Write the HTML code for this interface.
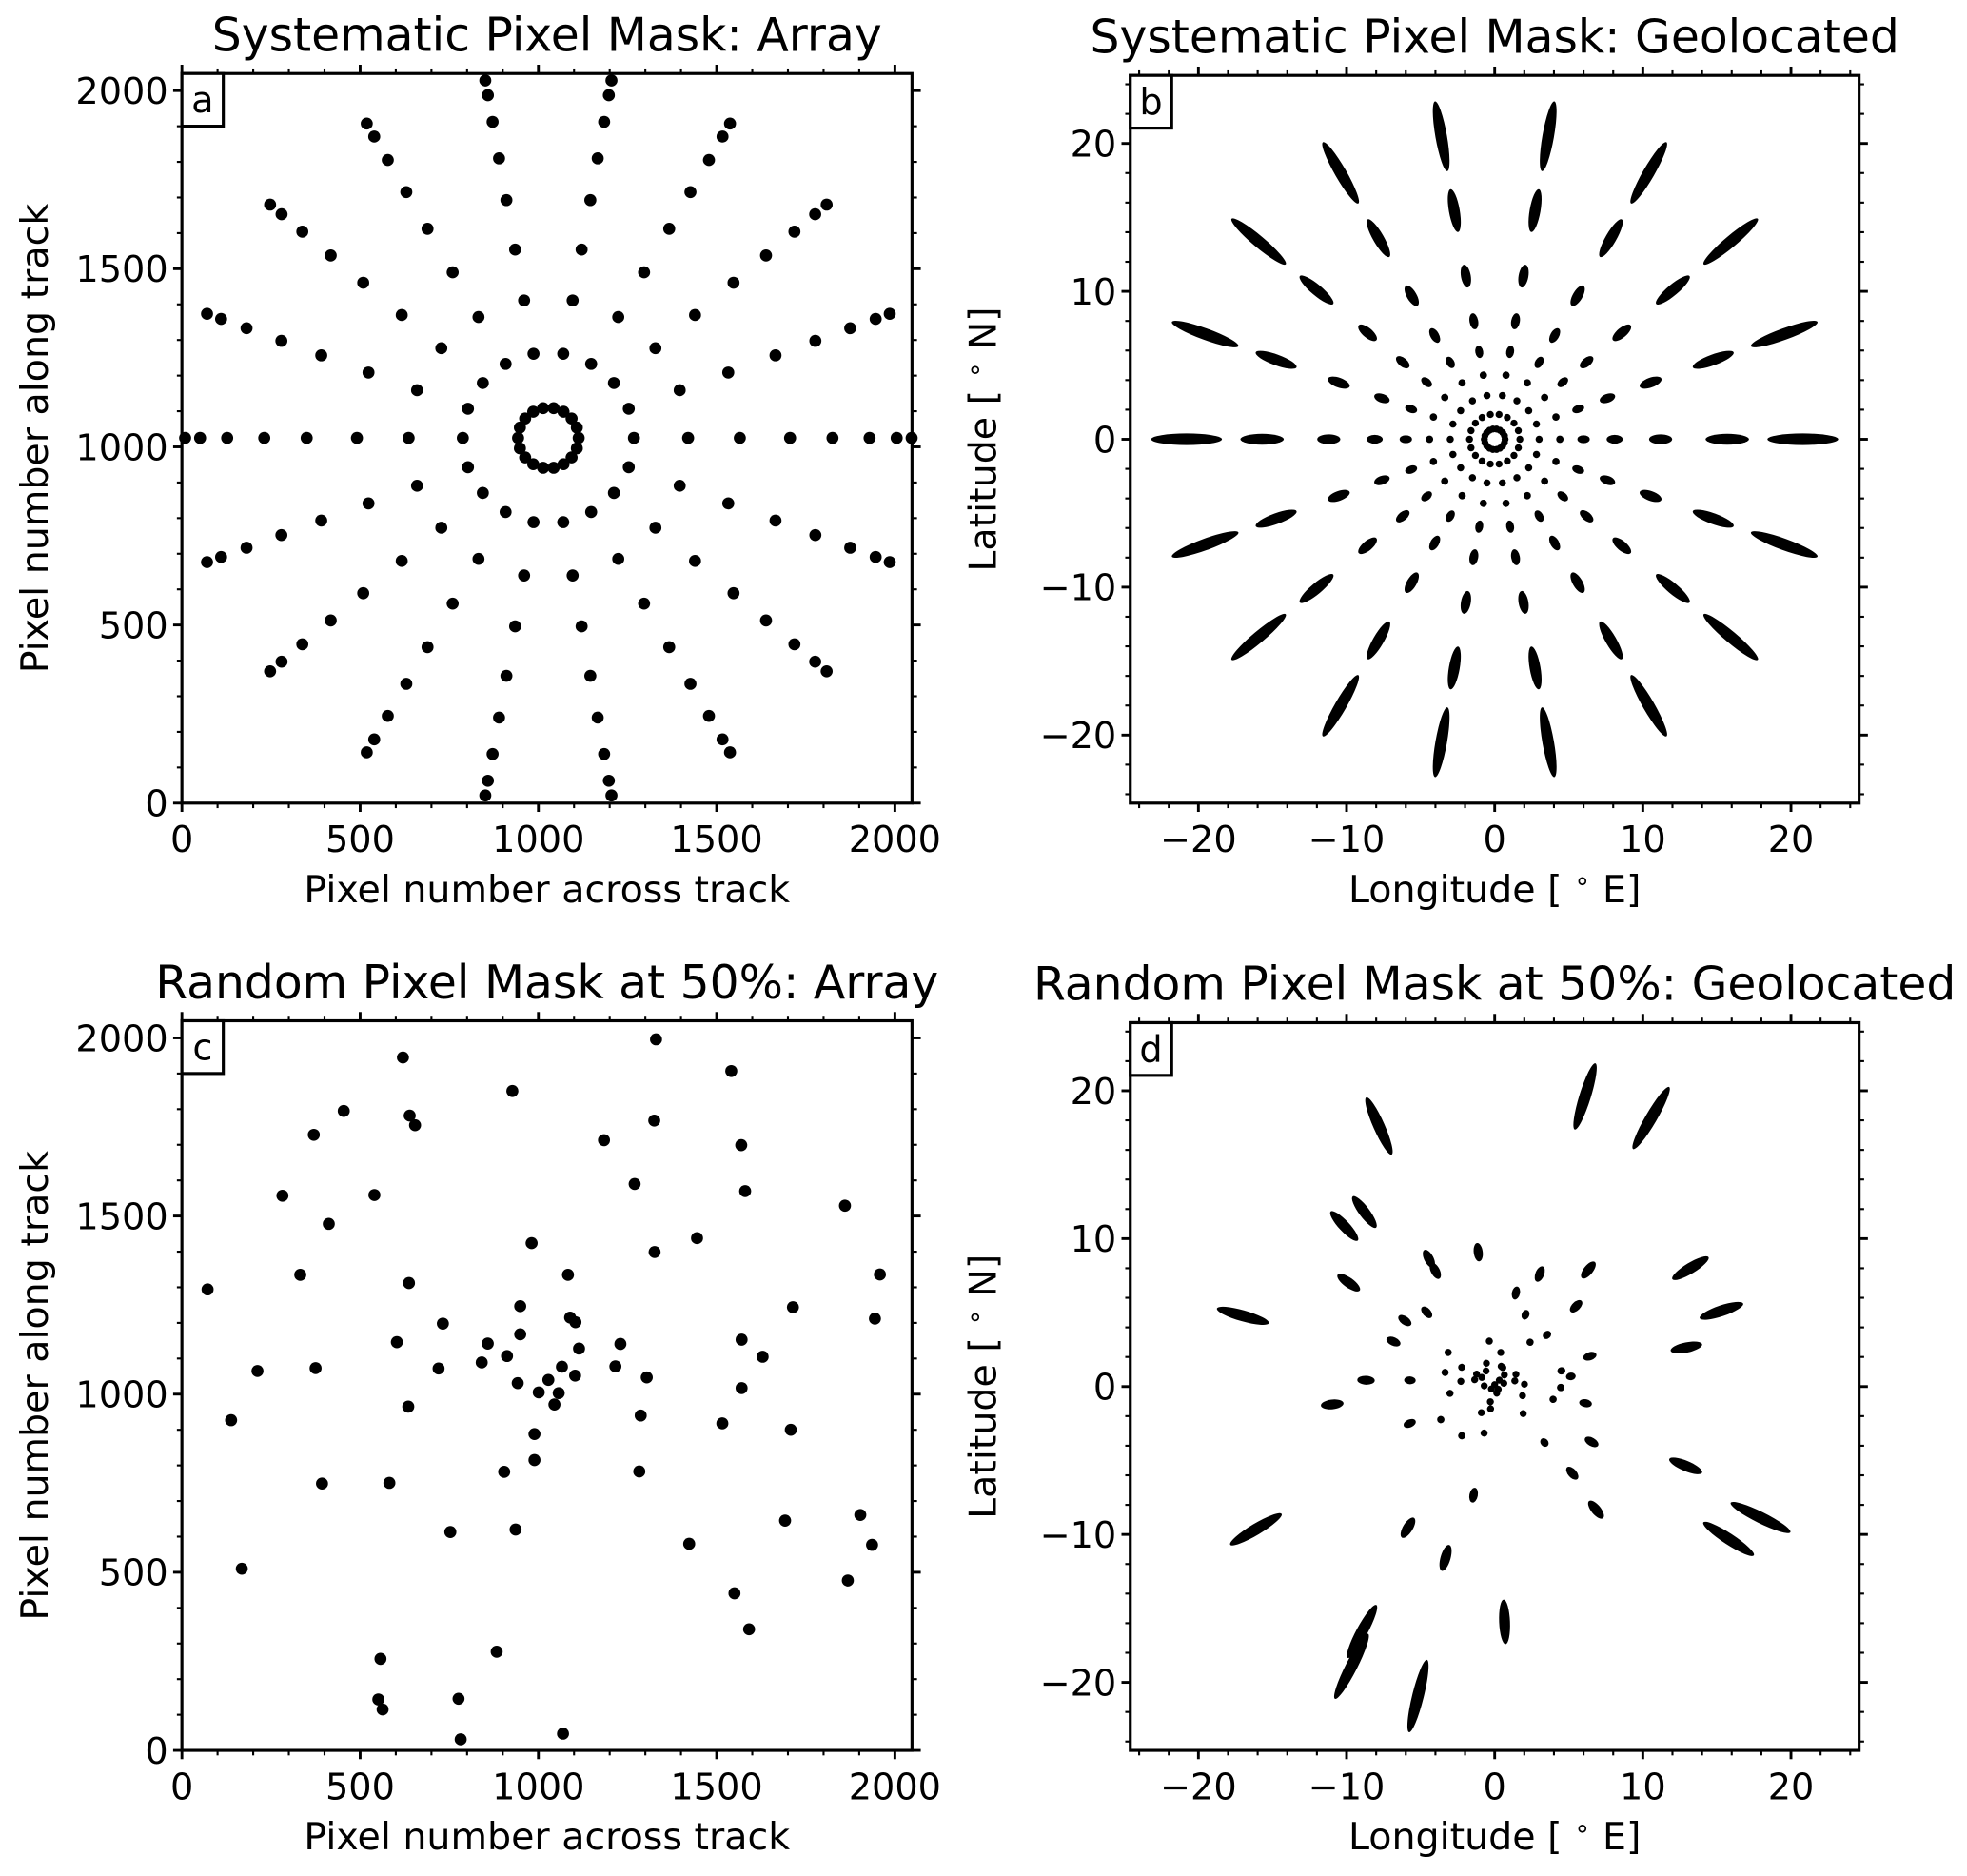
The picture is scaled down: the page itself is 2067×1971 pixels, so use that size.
<!DOCTYPE html>
<html><head><meta charset="utf-8">
<style>
html,body{margin:0;padding:0;background:#fff;}
svg{display:block;}
text{font-family:"DejaVu Sans","Liberation Sans",sans-serif;fill:#000;}
</style></head>
<body>
<svg id="fig" width="2067" height="1971" viewBox="0 0 1568 1495" xmlns="http://www.w3.org/2000/svg">
<rect x="0" y="0" width="1568" height="1495" fill="#fff"/>
</svg>
<script>
// ---- data ----
const sysAngles = [0,20,40,60,80,100,120,140,160,180,200,220,240,260,280,300,320,340];
const sysRadii = [240,392,537,678,797,901,977,1019];
const ringRadius = 85;
const arrayCenter = [1028,1025];
const randX = [1330,620,1541,927,454,639,654,370,1325,1184,1569,1270,1580,282,540,1860,412,981,1445,1326,332,1083,1958,72,637,949,1714,1089,1104,1944,732,949,603,858,1114,1230,1570,912,1629,841,212,375,720,1066,1216,1028,1103,1304,942,1570,1001,1057,1045,635,138,1287,1516,1708,989,989,904,1283,393,582,1903,1692,753,936,1423,1936,168,1868,1550,1591,883,557,551,563,776,782,1069];
const randY = [1996,1945,1907,1851,1795,1782,1755,1728,1768,1713,1699,1590,1570,1557,1559,1529,1478,1424,1438,1399,1335,1335,1336,1294,1312,1247,1244,1215,1202,1212,1198,1168,1146,1142,1128,1141,1153,1107,1105,1089,1065,1073,1072,1077,1078,1040,1052,1047,1031,1017,1005,1003,971,965,927,940,918,900,888,815,782,783,749,751,661,645,613,620,580,577,510,477,441,340,277,257,143,115,145,31,47];
// geolocation model: pixel radius -> degrees radius, blob half length
const mapR    = [0,85,240,392,537,678,797,901,977,1019,1060];
const mapDeg  = [0,0.7,1.7,3.0,4.4,6.0,8.1,11.2,15.7,20.8,27];
const mapHalf = [0,0,0,0,0,0.15,0.25,0.45,1.1,2.0,3];
const pixTicks = [0,500,1000,1500,2000];
const degTicks = [-20,-10,0,10,20];

const NS = "http://www.w3.org/2000/svg";
const svg = document.getElementById('fig');
function mk(tag, attrs, parent){
  const e = document.createElementNS(NS, tag);
  for (const k in attrs) e.setAttribute(k, attrs[k]);
  (parent||svg).appendChild(e);
  return e;
}
function interp(xs, ys, v){
  if (v <= xs[0]) return ys[0];
  for (let i=1;i<xs.length;i++){
    if (v <= xs[i]) return ys[i-1] + (ys[i]-ys[i-1])*(v-xs[i-1])/(xs[i]-xs[i-1]);
  }
  const n = xs.length-1;
  return ys[n] + (ys[n]-ys[n-1])*(v-xs[n])/(xs[n]-xs[n-1]);
}
function makeAxis(x0,y0,x1,y1,vmin,vmax){
  return {
    x0:x0,y0:y0,x1:x1,y1:y1,
    x: v => x0 + (v-vmin)/(vmax-vmin)*(x1-x0),
    y: v => y1 - (v-vmin)/(vmax-vmin)*(y1-y0)
  };
}
const axA = makeAxis(145,58.5,727,640,0,2048);
const axB = makeAxis(901,60,1482,640,-24.6,24.6);
const axC = makeAxis(145,813.5,727,1395,0,2048);
const axD = makeAxis(901,815,1482,1395,-24.6,24.6);

function drawFrame(ax, name, title, letter, xlabel, ylabel, majors, minorStep, minorMin, minorMax, vmin, vmax, fmt){
  const g = mk('g', {});
  
  
  const tg = mk('g', {stroke:'#000','stroke-width':1.6}, g);
  for (let v=minorMin; v<=minorMax+1e-9; v+=minorStep){
    if (v < vmin || v > vmax) continue;
    const xx = ax.x(v), yy = ax.y(v);
    mk('line',{x1:xx,y1:ax.y1,x2:xx,y2:ax.y1+4},tg);
    mk('line',{x1:xx,y1:ax.y0,x2:xx,y2:ax.y0-4},tg);
    mk('line',{x1:ax.x0,y1:yy,x2:ax.x0-4,y2:yy},tg);
    mk('line',{x1:ax.x1,y1:yy,x2:ax.x1+4,y2:yy},tg);
  }
  const tg2 = mk('g', {stroke:'#000','stroke-width':2.2}, g);
  majors.forEach(v => {
    const xx = ax.x(v), yy = ax.y(v);
    mk('line',{x1:xx,y1:ax.y1,x2:xx,y2:ax.y1+7},tg2);
    mk('line',{x1:xx,y1:ax.y0,x2:xx,y2:ax.y0-7},tg2);
    mk('line',{x1:ax.x0,y1:yy,x2:ax.x0-7,y2:yy},tg2);
    mk('line',{x1:ax.x1,y1:yy,x2:ax.x1+7,y2:yy},tg2);
    const xl = mk('text',{x:xx,y:ax.y1+39,'text-anchor':'middle','font-size':29},g);
    xl.textContent = fmt(v);
    
    
    const yl = mk('text',{x:ax.x0-11,y:yy+10.5,'text-anchor':'end','font-size':29},g);
    yl.textContent = fmt(v);
    
    
  });
  const fr = mk('rect',{x:ax.x0,y:ax.y0,width:ax.x1-ax.x0,height:ax.y1-ax.y0,fill:'none',stroke:'#000','stroke-width':2.4},g);
  
  
  const lb = mk('rect',{x:ax.x0,y:ax.y0,width:33,height:42,fill:'#fff',stroke:'#000','stroke-width':2.4},g);
  
  
  const lt = mk('text',{x:ax.x0+16.5,y:ax.y0+31,'text-anchor':'middle','font-size':29},g);
  lt.textContent = letter;
  
  
  const tt = mk('text',{x:(ax.x0+ax.x1)/2,y:ax.y0-18,'text-anchor':'middle','font-size':37},g);
  tt.textContent = title;
  
  
  const xt = mk('text',{x:(ax.x0+ax.x1)/2,y:ax.y1+79,'text-anchor':'middle','font-size':30},g);
  xlabel(xt);
  
  
  const cy = (ax.y0+ax.y1)/2;
  const yx = ax.x0 - 107;
  const yt = mk('text',{x:yx,y:cy,'text-anchor':'middle','font-size':30,transform:`rotate(-90 ${yx} ${cy})`},g);
  ylabel(yt);
  
  
}
const pixFmt = v => String(v);
const degFmt = v => (v<0 ? '\u2212'+(-v) : String(v));
function plainLabel(s){ return t => { t.textContent = s; }; }
function degLabel(pre, suf){
  return t => {
    const a = document.createElementNS(NS,'tspan'); a.textContent = pre + '[ '; t.appendChild(a);
    const b = document.createElementNS(NS,'tspan'); b.textContent = '\u2218'; b.setAttribute('font-size','21'); b.setAttribute('dy','-10'); t.appendChild(b);
    const c = document.createElementNS(NS,'tspan'); c.textContent = ' ' + suf + ']'; c.setAttribute('dy','10'); t.appendChild(c);
  };
}

drawFrame(axA,'panel-a-axes','Systematic Pixel Mask: Array','a',plainLabel('Pixel number across track'),plainLabel('Pixel number along track'),pixTicks,100,0,2048,0,2048,pixFmt);
drawFrame(axB,'panel-b-axes','Systematic Pixel Mask: Geolocated','b',degLabel('Longitude ','E'),degLabel('Latitude ','N'),degTicks,2,-24,24,-24.6,24.6,degFmt);
drawFrame(axC,'panel-c-axes','Random Pixel Mask at 50%: Array','c',plainLabel('Pixel number across track'),plainLabel('Pixel number along track'),pixTicks,100,0,2048,0,2048,pixFmt);
drawFrame(axD,'panel-d-axes','Random Pixel Mask at 50%: Geolocated','d',degLabel('Longitude ','E'),degLabel('Latitude ','N'),degTicks,2,-24,24,-24.6,24.6,degFmt);

// ---- marks ----
function pixDot(ax, g, px, py){
  const c = mk('circle',{cx:ax.x(px),cy:ax.y(py),r:4.8,fill:'#000'},g);
  
  
}
function geoBlob(ax, g, px, py){
  const dx = px - arrayCenter[0], dy = py - arrayCenter[1];
  const r = Math.sqrt(dx*dx+dy*dy);
  const ang = Math.atan2(dy,dx);
  const deg = interp(mapR,mapDeg,r);
  const half = interp(mapR,mapHalf,r);
  const lon = deg*Math.cos(ang), lat = deg*Math.sin(ang);
  const ry = 2.8 + 1.8*Math.pow(Math.min(r/1019,1.05),4);
  const sx = (ax.x(1)-ax.x(0));
  const rx = half*sx + ry;
  const cx = ax.x(lon), cy = ax.y(lat);
  const e = mk('ellipse',{cx:cx,cy:cy,rx:rx,ry:ry,fill:'#000',transform:`rotate(${-ang*180/Math.PI} ${cx} ${cy})`},g);
  
  
}
function sysPoints(){
  const pts = [];
  sysAngles.forEach(a => {
    const t = a*Math.PI/180;
    pts.push([arrayCenter[0]+ringRadius*Math.cos(t), arrayCenter[1]+ringRadius*Math.sin(t)]);
    sysRadii.forEach(r => pts.push([arrayCenter[0]+r*Math.cos(t), arrayCenter[1]+r*Math.sin(t)]));
  });
  return pts;
}
const gA = mk('g',{});


const gB = mk('g',{});


sysPoints().forEach(p => { pixDot(axA,gA,p[0],p[1]); geoBlob(axB,gB,p[0],p[1]); });

const gC = mk('g',{});


const gD = mk('g',{});


for (let i=0;i<randX.length;i++){ pixDot(axC,gC,randX[i],randY[i]); geoBlob(axD,gD,randX[i],randY[i]); }
</script>
</body></html>
